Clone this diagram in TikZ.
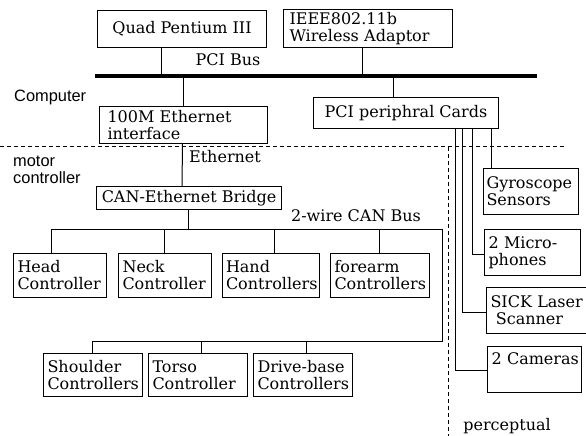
\documentclass[tikz,border=0pt]{standalone}
\usepackage{fontspec}
\setmainfont{DejaVu Serif}
\newfontfamily\sansf{Liberation Sans}
\begin{document}
\begin{tikzpicture}[x=1pt,y=-1pt,
  txt/.style={font=\fontsize{16}{17}\selectfont},
  stxt/.style={font=\sansf\fontsize{16.4}{16.5}\selectfont, inner sep=0pt},
  box/.style={draw, line width=1pt, txt, anchor=north west, inner xsep=4pt, inner ysep=0pt, align=left},
  cbox/.style={draw, line width=1pt, txt, anchor=north west, inner sep=0pt, align=center},
  wire/.style={line width=1pt},
  sep/.style={line width=0.9pt, dash pattern=on 4pt off 3pt}]
\useasboundingbox (0,0) rectangle (586,436);
\clip (0,0) rectangle (586,436);
% boxes
\node[cbox, minimum width=169pt, minimum height=37pt] (quad) at (97,10) {Quad Pentium III};
\node[box, minimum height=38pt, inner xsep=6pt, text width=157pt] (ieee) at (283,9) {IEEE802.11b\\Wireless Adaptor};
\node[box, text width=152pt, minimum height=37pt, inner xsep=8pt] (eth) at (99,106) {100M Ethernet\\interface};
\node[cbox, minimum width=185pt, minimum height=31pt] (pci) at (313,97) {PCI periphral Cards};
\node[cbox, minimum width=185pt, minimum height=23pt] (can) at (96,186) {CAN-Ethernet Bridge};
\node[box, text width=85pt, minimum height=44pt] (head) at (13,253) {Head\\Controller};
\node[box, text width=85pt, minimum height=44pt] (neck) at (118,253) {Neck\\Controller};
\node[box, text width=90pt, minimum height=44pt, inner xsep=3.5pt] (hand) at (222,253) {Hand\\Controllers};
\node[box, text width=91pt, minimum height=44pt] (fore) at (330,253) {forearm\\Controllers};
\node[box, text width=91pt, minimum height=43pt] (shoulder) at (43,353) {Shoulder\\Controllers};
\node[box, text width=91pt, minimum height=43pt] (torso) at (148,353) {Torso\\Controller};
\node[box, text width=91pt, minimum height=43pt] (drive) at (253,353) {Drive-base\\Controllers};
\node[box, text width=89pt, minimum height=46pt, inner xsep=3pt] (gyro) at (483,168) {Gyroscope\\Sensors};
\node[box, text width=88pt, minimum height=46pt] (mic) at (484,229) {2 Micro-\\phones};
\node[box, text width=98pt, minimum height=46pt] (sick) at (486,287) {SICK Laser\\\ Scanner};
\node[box, text width=86pt, minimum height=46pt] (cam) at (487,346) {\mbox{2 Cameras}\\\strut};
% labels
\node[txt, inner sep=0pt] (pcibuslbl) at (228,60) {PCI Bus};
\node[txt, inner sep=0pt] (ethlbl) at (225,157) {Ethernet};
\node[txt, inner sep=0pt] (canbuslbl) at (356,216) {2-wire CAN Bus};
\node[txt, inner sep=0pt] (perclbl) at (507,426) {perceptual};
\node[stxt, anchor=west] (complbl) at (14,97) {Computer};
\node[stxt, anchor=west, align=left] (motorlbl) at (13,170) {motor\\controller};
% PCI bus
\coordinate (busL) at (95,76);
\coordinate (busR) at (537,76);
\draw[line width=4.8pt] (busL) -- (busR);
\draw[wire] ([xshift=64pt]quad.south west) -- ([xshift=64pt]quad.south west |- busL);
\draw[wire] ([xshift=79pt]ieee.south west) -- ([xshift=79pt]ieee.south west |- busL);
\draw[wire] ([xshift=84pt]eth.north west) -- ([xshift=84pt]eth.north west |- busL);
\draw[wire] ([xshift=80pt]pci.north west) -- ([xshift=80pt]pci.north west |- busL);
% separators
\coordinate (dh1) at (0,146);
\coordinate (dh2) at (565,146);
\coordinate (dv1) at (448,147);
\coordinate (dv2) at (448,436);
\draw[sep] (dh1) -- (dh2);
\draw[sep] (dv1) -- (dv2);
% ethernet
\draw[wire] ([xshift=83.5pt]eth.south west) -- ([xshift=86pt]can.north west);
% CAN bus
\coordinate (busA) at (51,229);
\coordinate (busB) at (442,229);
\coordinate (busC) at (442,341);
\coordinate (busD) at (92,341);
\draw[wire] (busA) -- (busB) -- (busC) -- (busD);
\draw[wire] ([xshift=92pt]can.south west) -- ([xshift=92pt]can.south west |- busA);
\draw[wire] ([xshift=38pt]head.north west) -- ([xshift=38pt]head.north west |- busA);
\draw[wire] ([xshift=46pt]neck.north west) -- ([xshift=46pt]neck.north west |- busA);
\draw[wire] ([xshift=52pt]hand.north west) -- ([xshift=52pt]hand.north west |- busA);
\draw[wire] ([xshift=49pt]fore.north west) -- ([xshift=49pt]fore.north west |- busA);
\draw[wire] ([xshift=49pt]shoulder.north west) -- ([xshift=49pt]shoulder.north west |- busD);
\draw[wire] ([xshift=53pt]torso.north west) -- ([xshift=53pt]torso.north west |- busD);
\draw[wire] ([xshift=53pt]drive.north west) -- ([xshift=53pt]drive.north west |- busD);
% perceptual links
\draw[wire] ([xshift=142pt]pci.south west) |- ([yshift=-1pt]cam.west);
\draw[wire] ([xshift=149pt]pci.south west) |- ([yshift=-2pt]sick.west);
\draw[wire] ([xshift=159pt]pci.south west) |- ([yshift=-2pt]mic.west);
\draw[wire] ([xshift=178pt]pci.south west) -- ([xshift=178pt]pci.south west |- gyro.north);
\end{tikzpicture}
\end{document}
